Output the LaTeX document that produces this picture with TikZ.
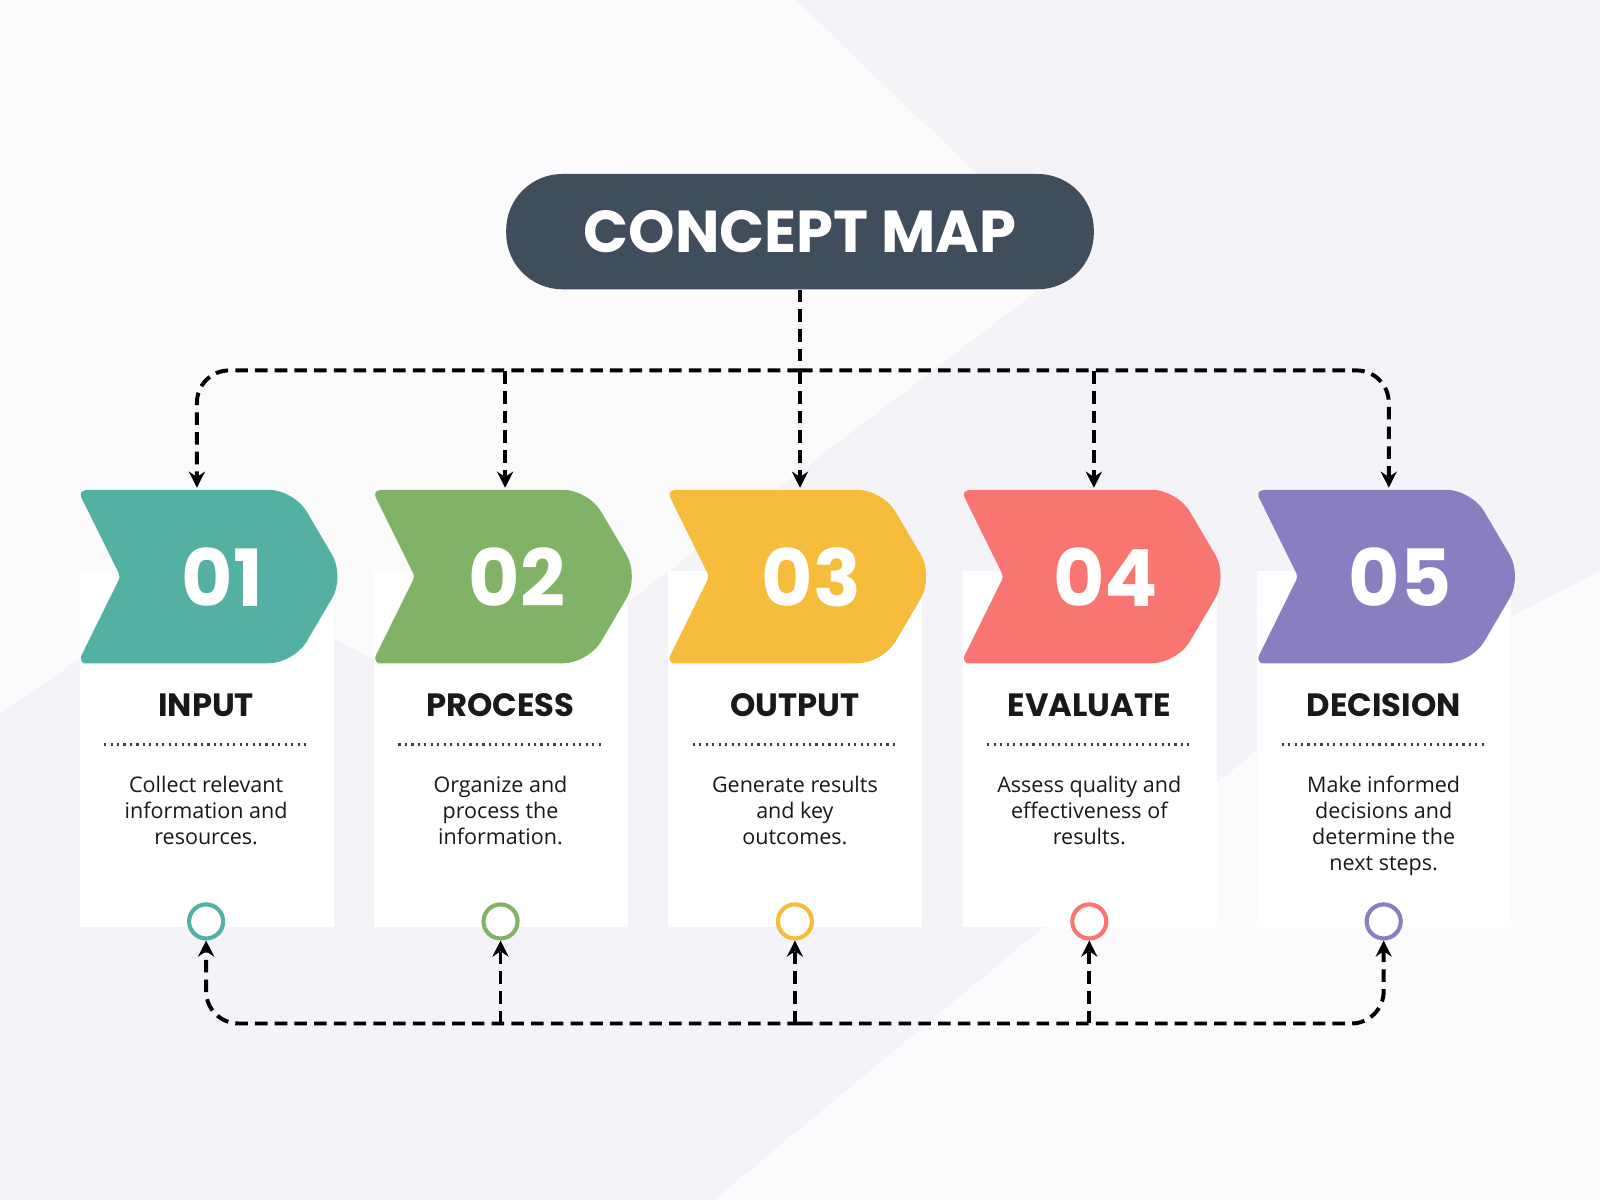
\documentclass[tikz,border=0pt]{standalone}
\usepackage{fontspec}
\setmainfont{Open Sans}
\newfontfamily\headf{Poppins}
\usetikzlibrary{arrows.meta}
\definecolor{bg}{HTML}{F4F4F8}
\definecolor{bgl}{HTML}{FBFBFD}
\definecolor{title}{HTML}{3F4D5C}
\definecolor{cA}{HTML}{54B0A2}
\definecolor{cB}{HTML}{80B366}
\definecolor{cC}{HTML}{F6BC3B}
\definecolor{cD}{HTML}{F87571}
\definecolor{cE}{HTML}{8B7EC0}
\tikzset{
 dl/.style={line width=2.2pt, dash pattern=on 7pt off 4pt, black},
 arr/.style={dl,-{Stealth[length=9pt,width=9pt,inset=3pt]}},
 card/.style={fill=white, draw=none},
 num/.style={text=white, font=\headf\bfseries\fontsize{44}{44}\selectfont},
 head/.style={font=\headf\bfseries\fontsize{18}{20}\selectfont, text=black!90},
 desc/.style={font=\fontsize{12}{14.5}\selectfont, align=center, text=black!90},
 ring/.style={circle, line width=2.3pt, minimum size=19pt, inner sep=0pt, fill=white},
}
\begin{document}
\begin{tikzpicture}[x=0.02cm,y=-0.02cm]
\fill[bg] (0,0) rectangle (1568,1176);
\useasboundingbox (0,0) rectangle (1568,1176);
\fill[bgl] (0,0) -- (780,0) -- (200,560) -- (0,700) -- cycle;
\fill[bgl] (1568,1176) -- (700,1176) -- (1250,720) -- (1568,560) -- cycle;
\fill[white!60!bg] (780,0) -- (1050,260) -- (470,700) -- (200,560) -- cycle;
% title
\node[fill=title, minimum width=11.52cm, minimum height=2.26cm, text=white, font=\headf\bfseries\fontsize{33}{33}\selectfont, rounded corners=1.1cm] (T) at (784,227) {CONCEPT MAP};
% columns
\foreach \i/\n/\h/\d/\tx [count=\k from 0] in {
 cA/01/INPUT/{Collect relevant\\information and\\resources.}/115,
 cB/02/PROCESS/{Organize and\\process the\\information.}/128.5,
 cC/03/OUTPUT/{Generate results\\and key\\outcomes.}/129,
 cD/04/EVALUATE/{Assess quality and\\effectiveness of\\results.}/128.5,
 cE/05/DECISION/{Make informed\\decisions and\\determine the\\next steps.}/129}{
 \pgfmathsetmacro\ox{78+288.5*\k}
 \begin{scope}[xshift=\ox*0.02cm]
  \fill[card] (0,560) rectangle (249,908);
  \fill[\i] (4,480) [rounded corners=14pt] -- (210,480) -- (260,565) -- (210,650) [sharp corners] -- (4,650) [rounded corners=2pt] -- (0,646) -- (40,565) -- (0,484) -- cycle;
  \node[num] (n\k) at (140,566) {\n};
  \node[head] (h\k) at (124,691) {\h};
  \draw[line width=1.6pt, dash pattern=on 1.2pt off 2.4pt, black!75] (24,730) -- (224,730);
  \node[desc, anchor=north] (d\k) at (124,754) {\d};
  \node[ring, draw=\i] (r\k) at (124,903) {};
  \coordinate (top\k) at (\tx,478);
 \end{scope}
}
% top connectors
\draw[dl] (T.south) -- (784,363);
\draw[arr, rounded corners=18pt] (784,363) -| (top0);
\draw[arr, rounded corners=18pt] (784,363) -| (top4);
\draw[arr] (top1 |- T.south) ++(0,80) -- (top1);
\draw[arr] (top2 |- T.south) ++(0,80) -- (top2);
\draw[arr] (top3 |- T.south) ++(0,80) -- (top3);
% bottom connectors
\coordinate (B) at (784,1003);
\draw[arr, rounded corners=18pt] (B) -| (r0.south);
\draw[arr, rounded corners=18pt] (B) -| (r4.south);
\draw[arr] (r1 |- B) -- (r1.south);
\draw[arr] (r2 |- B) -- (r2.south);
\draw[arr] (r3 |- B) -- (r3.south);
\end{tikzpicture}
\end{document}
